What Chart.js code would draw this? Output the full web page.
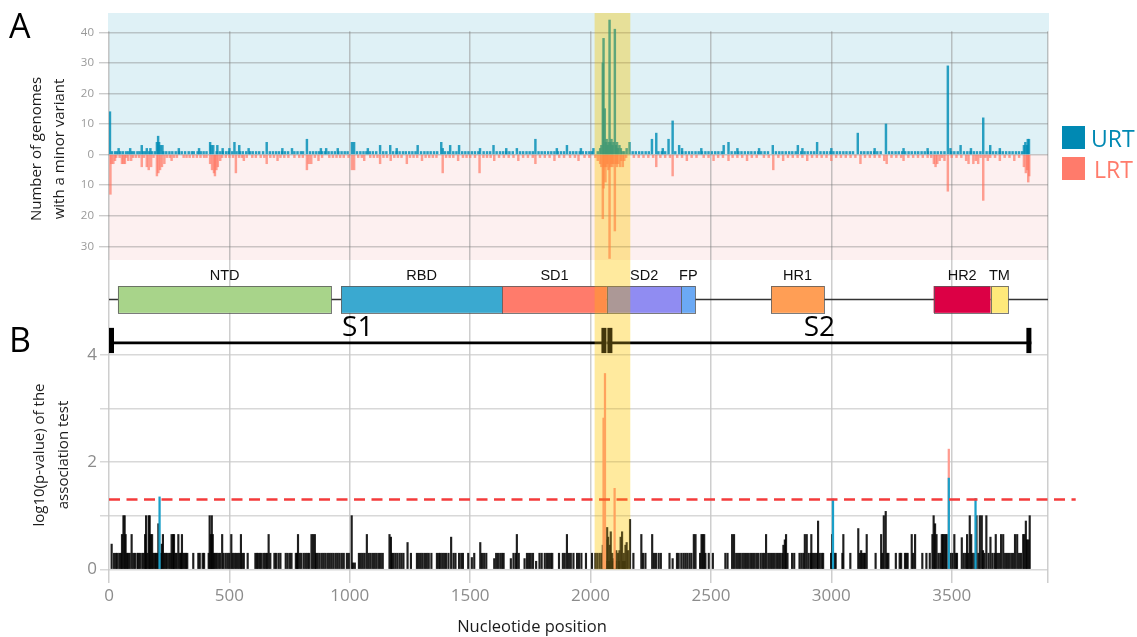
<!DOCTYPE html>
<html>
<head>
<meta charset="utf-8">
<title>Spike minor variants</title>
<script src="https://cdn.jsdelivr.net/npm/chart.js@4.4.1/dist/chart.umd.min.js"></script>
<style>
  html, body { margin: 0; padding: 0; background: #ffffff; }
  #wrap { position: relative; width: 1137px; height: 637px; overflow: hidden; }
  #cA { position: absolute; left: 0; top: 0; }
  #cB { position: absolute; left: 0; top: 260px; }
</style>
</head>
<body>
<div id="wrap">
  <canvas id="cA" width="1137" height="260"></canvas>
  <canvas id="cB" width="1137" height="377"></canvas>
</div>
<script>
// ---------- axes ----------
const xMax = 3900;
const xTicks = [0, 500, 1000, 1500, 2000, 2500, 3000, 3500];
const countTicks = [-30, -20, -10, 0, 10, 20, 30, 40];
const pvalTicks = [0, 1, 2, 3, 4];
const pvalLabelled = [0, 2, 4];
const pvalThreshold = 1.301;          // -log10(0.05)
const highlight = [2017, 2165];        // highlighted stretch around the S1/S2 site

// ---------- spike protein architecture (nucleotide positions) ----------
const domainNames = ['NTD', 'RBD', 'SD1', 'SD2', 'FP', 'HR1', 'HR2', 'TM'];
const domainStart = [37, 964, 1633, 2068, 2377, 2750, 3425, 3662];
const domainEnd   = [923, 1633, 2068, 2377, 2435, 2970, 3662, 3734];
const subunitNames = ['S1', 'S2'];
const subunitStart = [0, 2070];
const subunitEnd   = [2066, 3831];

// ---------- panel A: genomes with a minor variant ----------
// positions carrying a minor variant in a single URT genome
const urtSingle = [12, 25, 33, 47, 58, 71, 80, 95, 104, 118, 127, 141, 150, 166, 178, 190, 226, 238, 251, 263,
  277, 290, 302, 316, 331, 344, 352, 368, 381, 393, 405, 447, 460, 472, 486, 497, 512, 530, 544, 556, 570, 586,
  597, 611, 624, 640, 668, 681, 694, 706, 719, 731, 744, 770, 783, 797, 806, 835, 848, 861, 873, 885, 897, 912,
  925, 938, 953, 966, 979, 991, 1030, 1044, 1057, 1069, 1083, 1096, 1110, 1139, 1152, 1180, 1194, 1207, 1221,
  1233, 1247, 1260, 1273, 1296, 1310, 1323, 1336, 1350, 1363, 1395, 1408, 1430, 1443, 1467, 1480, 1493, 1507,
  1520, 1534, 1556, 1570, 1583, 1610, 1624, 1637, 1650, 1663, 1677, 1707, 1720, 1734, 1747, 1760, 1784, 1797,
  1810, 1824, 1837, 1850, 1864, 1877, 1890, 1915, 1928, 1941, 1955, 1968, 1982, 1995, 2005, 2175, 2188, 2202,
  2215, 2229, 2242, 2282, 2296, 2310, 2352, 2381, 2395, 2409, 2422, 2436, 2449, 2463, 2477, 2490, 2504, 2518,
  2531, 2545, 2586, 2600, 2614, 2627, 2641, 2655, 2668, 2682, 2696, 2709, 2723, 2737, 2770, 2784, 2797, 2811,
  2825, 2838, 2852, 2875, 2889, 2902, 2916, 2929, 2955, 2969, 2982, 2996, 3009, 3023, 3036, 3050, 3063, 3077,
  3090, 3124, 3137, 3151, 3164, 3178, 3191, 3205, 3240, 3253, 3267, 3280, 3294, 3307, 3321, 3334, 3348, 3361,
  3375, 3388, 3402, 3415, 3429, 3442, 3456, 3470, 3498, 3511, 3525, 3551, 3565, 3578, 3592, 3605, 3619, 3645,
  3658, 3672, 3685, 3699, 3712, 3726, 3740, 3753, 3767, 3780, 3793];
// [position, number of URT genomes]
const urtCounts = [[4, 14], [40, 2], [88, 2], [136, 3], [157, 2], [172, 2], [199, 4], [204, 6], [208, 4], [214, 3],
  [222, 3], [290, 2], [374, 2], [420, 4], [425, 3], [433, 3], [450, 3], [472, 2], [500, 2], [521, 4], [541, 3],
  [580, 2], [655, 4], [720, 2], [760, 2], [822, 5], [880, 2], [902, 2], [950, 2], [1009, 4], [1018, 4], [1075, 2],
  [1126, 3], [1168, 3], [1195, 2], [1282, 3], [1380, 4], [1386, 2], [1417, 3], [1454, 3], [1541, 2], [1597, 3],
  [1650, 2], [1694, 2], [1771, 5], [1860, 2], [1902, 3], [1960, 2], [2012, 2],
  [2030, 1], [2040, 2], [2045, 3], [2051, 30], [2054, 38], [2059, 15], [2063, 4], [2067, 5], [2071, 3], [2075, 4],
  [2079, 44], [2083, 4], [2087, 5], [2091, 3], [2095, 4], [2101, 41], [2106, 3], [2110, 4], [2114, 2], [2120, 3],
  [2126, 2], [2132, 1], [2140, 1], [2150, 2], [2162, 4],
  [2255, 5], [2273, 7], [2300, 2], [2324, 5], [2341, 11], [2368, 3], [2380, 2], [2460, 2], [2553, 3], [2573, 4],
  [2610, 2], [2700, 2], [2757, 3], [2861, 3], [2880, 2], [2941, 4], [3000, 2], [3110, 7], [3180, 2], [3227, 10],
  [3300, 2], [3400, 2], [3484, 29], [3495, 2], [3537, 3], [3580, 2], [3631, 12], [3660, 3], [3700, 2], [3800, 3],
  [3806, 4], [3812, 3], [3816, 5], [3821, 5]];
// positions carrying a minor variant in a single LRT genome
const lrtSingle = [30, 44, 72, 100, 112, 125, 145, 185, 240, 252, 270, 282, 310, 322, 335, 350, 365, 380, 395, 405,
  470, 485, 500, 515, 540, 552, 572, 595, 610, 630, 645, 670, 685, 712, 728, 745, 770, 790, 805, 855, 885, 915,
  930, 945, 960, 975, 995, 1035, 1050, 1085, 1100, 1115, 1140, 1155, 1185, 1200, 1215, 1250, 1265, 1280, 1315,
  1330, 1345, 1360, 1400, 1415, 1430, 1470, 1485, 1500, 1520, 1555, 1570, 1585, 1620, 1640, 1660, 1680, 1720,
  1740, 1760, 1790, 1810, 1830, 1870, 1890, 1915, 1935, 1975, 1995, 2180, 2200, 2220, 2240, 2260, 2290, 2310,
  2330, 2360, 2380, 2420, 2440, 2470, 2490, 2530, 2550, 2590, 2610, 2630, 2670, 2690, 2720, 2740, 2780, 2820,
  2840, 2860, 2880, 2920, 2940, 2960, 2980, 3020, 3040, 3060, 3080, 3100, 3140, 3160, 3180, 3200, 3250, 3270,
  3290, 3320, 3340, 3360, 3380, 3400, 3415, 3460, 3500, 3520, 3540, 3620, 3640, 3660, 3680, 3720, 3740, 3780];
// [position, number of LRT genomes]
const lrtCounts = [[6, 13], [10, 3], [18, 3], [25, 2], [54, 3], [60, 3], [66, 3], [80, 2], [92, 2], [136, 4],
  [157, 4], [165, 5], [175, 4], [199, 7], [205, 6], [212, 5], [220, 4], [230, 3], [260, 2], [420, 3], [428, 5],
  [436, 6], [440, 7], [446, 5], [452, 4], [462, 2], [527, 6], [560, 2], [655, 3], [700, 2], [822, 5], [830, 3],
  [840, 3], [870, 2], [1009, 5], [1018, 5], [1060, 2], [1126, 3], [1170, 2], [1237, 3], [1300, 2], [1386, 6],
  [1450, 2], [1539, 6], [1600, 2], [1700, 2], [1771, 3], [1850, 2], [1950, 2],
  [2020, 1], [2030, 2], [2040, 3], [2045, 4], [2051, 21], [2054, 11], [2058, 4], [2062, 9], [2066, 4], [2070, 3],
  [2074, 5], [2079, 34], [2083, 4], [2087, 3], [2091, 4], [2095, 3], [2101, 25], [2106, 3], [2110, 4], [2115, 3],
  [2123, 4], [2128, 2], [2134, 4], [2140, 2], [2148, 1],
  [2273, 4], [2341, 7], [2400, 2], [2511, 2], [2573, 2], [2650, 2], [2759, 5], [2800, 2], [2900, 2], [3000, 2],
  [3121, 3], [3220, 2], [3230, 3], [3300, 2], [3426, 3], [3433, 4], [3440, 3], [3450, 2], [3470, 2], [3484, 12],
  [3560, 2], [3570, 3], [3590, 3], [3600, 2], [3610, 3], [3631, 15], [3650, 2], [3700, 2], [3760, 2], [3800, 4],
  [3808, 6], [3814, 5], [3818, 9], [3822, 7]];

// ---------- panel B: log10(p-value) of the association test ----------
// [position, score] for positions that are not significant
const assocNs = [[11, 0.47], [21, 0.3], [29, 0.3], [35, 0.3], [43, 0.3], [49, 0.3], [54, 0.65], [60, 1.0], [65, 1.0],
  [69, 0.65], [75, 0.3], [80, 0.3], [86, 0.3], [94, 0.65], [101, 0.3], [108, 0.3], [118, 0.3], [122, 0.3], [129, 0.3],
  [138, 0.3], [144, 0.3], [150, 0.65], [154, 1.0], [159, 0.3], [165, 1.0], [169, 1.0], [173, 0.65], [179, 0.65],
  [184, 0.3], [190, 0.3], [195, 0.3], [201, 0.3], [205, 0.85], [215, 0.3], [219, 0.47], [224, 0.65], [230, 0.3],
  [235, 0.3], [241, 0.3], [249, 0.3], [256, 0.3], [260, 0.65], [266, 0.65], [270, 0.65], [276, 0.3], [281, 0.3],
  [288, 0.65], [294, 0.3], [299, 0.3], [303, 0.65], [309, 0.3], [314, 0.3], [320, 0.3], [325, 0.3], [350, 0.3],
  [371, 0.3], [377, 0.3], [389, 0.3], [395, 0.3], [414, 0.3], [418, 1.0], [423, 0.65], [427, 1.0], [431, 0.65],
  [436, 0.3], [442, 0.3], [447, 0.3], [454, 0.3], [461, 0.3], [470, 0.65], [476, 0.3], [485, 0.3], [493, 0.3],
  [500, 0.3], [508, 0.65], [514, 0.3], [521, 0.3], [528, 0.3], [535, 0.3], [542, 0.3], [548, 0.65], [554, 0.3],
  [560, 0.3], [576, 0.3], [608, 0.3], [614, 0.3], [620, 0.3], [627, 0.3], [634, 0.3], [643, 0.3], [650, 0.3],
  [656, 0.3], [663, 0.65], [670, 0.3], [687, 0.3], [694, 0.3], [704, 0.3], [712, 0.3], [734, 0.3], [742, 0.3],
  [751, 0.3], [758, 0.3], [776, 0.3], [781, 0.3], [785, 0.65], [792, 0.3], [799, 0.3], [809, 0.3], [817, 0.3],
  [824, 0.3], [831, 0.3], [841, 0.65], [848, 0.65], [855, 0.65], [860, 0.3], [867, 0.3], [875, 0.3], [884, 0.3],
  [892, 0.3], [900, 0.3], [909, 0.3], [917, 0.3], [925, 0.3], [933, 0.3], [942, 0.3], [950, 0.3], [958, 0.3],
  [967, 0.3], [975, 0.3], [988, 0.3], [996, 0.3], [1008, 1.0], [1013, 0.12], [1021, 0.12], [1038, 0.3], [1046, 0.3],
  [1054, 0.3], [1062, 0.3], [1071, 0.65], [1079, 0.3], [1087, 0.3], [1096, 0.3], [1104, 0.3], [1112, 0.3],
  [1121, 0.3], [1129, 0.3], [1137, 0.3], [1165, 0.65], [1171, 0.6], [1176, 0.3], [1182, 0.3], [1190, 0.3],
  [1198, 0.3], [1207, 0.3], [1215, 0.3], [1223, 0.3], [1240, 0.5], [1254, 0.3], [1279, 0.3], [1287, 0.3],
  [1295, 0.3], [1303, 0.3], [1312, 0.3], [1320, 0.3], [1328, 0.3], [1339, 0.3], [1362, 0.3], [1370, 0.3],
  [1376, 0.3], [1384, 0.3], [1392, 0.3], [1400, 0.3], [1410, 0.3], [1421, 0.6], [1431, 0.3], [1439, 0.3],
  [1454, 0.3], [1463, 0.3], [1470, 0.3], [1492, 0.3], [1507, 0.22], [1517, 0.3], [1542, 0.5], [1549, 0.3],
  [1558, 0.3], [1567, 0.3], [1600, 0.2], [1608, 0.3], [1616, 0.3], [1625, 0.3], [1633, 0.3], [1639, 0.3],
  [1669, 0.2], [1680, 0.3], [1689, 0.3], [1694, 0.65], [1702, 0.3], [1726, 0.2], [1736, 0.3], [1744, 0.3],
  [1752, 0.3], [1761, 0.3], [1774, 0.15], [1788, 0.3], [1797, 0.3], [1810, 0.3], [1819, 0.3], [1827, 0.3],
  [1835, 0.3], [1841, 0.3], [1869, 0.3], [1885, 0.3], [1893, 0.3], [1902, 0.65], [1910, 0.3], [1918, 0.3],
  [1929, 0.3], [1944, 0.3], [1952, 0.3], [1962, 0.3], [1981, 0.3], [2006, 0.3], [2020, 0.3], [2028, 0.3],
  [2037, 0.3], [2045, 0.3], [2051, 0.45], [2062, 0.55], [2065, 0.15], [2069, 0.78], [2073, 0.6], [2077, 0.15],
  [2080, 0.45], [2084, 0.7], [2089, 0.3], [2093, 0.15], [2095, 0.2], [2100, 0.3], [2104, 0.15], [2107, 0.35],
  [2114, 0.3], [2118, 0.15], [2120, 0.35], [2125, 0.6], [2131, 0.7], [2135, 0.15], [2138, 0.3], [2142, 0.15],
  [2145, 0.45], [2150, 0.5], [2156, 0.35], [2164, 0.93], [2178, 0.3], [2211, 0.65], [2218, 0.3], [2228, 0.3],
  [2256, 0.65], [2264, 0.3], [2272, 0.3], [2283, 0.3], [2292, 0.3], [2328, 0.3], [2341, 0.2], [2359, 0.3],
  [2366, 0.3], [2377, 0.3], [2386, 0.3], [2394, 0.3], [2402, 0.3], [2411, 0.3], [2419, 0.3], [2429, 0.65],
  [2436, 0.65], [2455, 0.3], [2461, 0.65], [2466, 0.65], [2472, 0.65], [2477, 0.3], [2491, 0.3], [2508, 0.3],
  [2560, 0.3], [2569, 0.3], [2588, 0.65], [2596, 0.65], [2605, 0.3], [2613, 0.3], [2621, 0.3], [2630, 0.3],
  [2638, 0.3], [2646, 0.3], [2654, 0.3], [2663, 0.3], [2671, 0.3], [2679, 0.3], [2688, 0.3], [2696, 0.3],
  [2706, 0.3], [2714, 0.3], [2721, 0.3], [2729, 0.65], [2738, 0.3], [2746, 0.3], [2754, 0.3], [2762, 0.3],
  [2771, 0.3], [2779, 0.3], [2787, 0.3], [2796, 0.3], [2801, 0.45], [2807, 0.55], [2812, 0.65], [2818, 0.3],
  [2837, 0.3], [2846, 0.3], [2868, 0.3], [2876, 0.3], [2884, 0.3], [2890, 0.65], [2898, 0.65], [2906, 0.3],
  [2915, 0.3], [2917, 0.65], [2924, 0.3], [2932, 0.3], [2941, 0.3], [2945, 0.9], [2952, 0.3], [2960, 0.3],
  [2966, 0.3], [2999, 0.3], [3004, 0.65], [3013, 0.3], [3018, 0.3], [3046, 0.3], [3050, 0.65], [3079, 0.3],
  [3112, 0.76], [3118, 0.3], [3124, 0.35], [3129, 0.3], [3135, 0.3], [3140, 0.3], [3147, 0.65], [3184, 0.3],
  [3207, 0.65], [3212, 0.3], [3218, 1.0], [3226, 1.08], [3232, 0.3], [3237, 0.3], [3268, 0.3], [3284, 0.3],
  [3290, 0.3], [3306, 0.3], [3312, 0.3], [3317, 0.3], [3334, 0.65], [3340, 0.3], [3348, 0.65], [3378, 0.3],
  [3395, 0.3], [3409, 0.3], [3420, 0.65], [3425, 1.0], [3431, 0.85], [3437, 0.65], [3445, 0.3], [3453, 0.3],
  [3459, 0.65], [3464, 0.65], [3470, 0.65], [3475, 0.65], [3481, 0.65], [3495, 0.3], [3503, 0.3], [3511, 0.65],
  [3517, 0.3], [3522, 0.3], [3542, 0.59], [3550, 0.3], [3558, 0.3], [3564, 0.65], [3569, 0.3], [3575, 1.0],
  [3581, 0.65], [3586, 0.3], [3594, 0.3], [3603, 1.0], [3611, 0.3], [3617, 1.0], [3625, 1.0], [3630, 0.35],
  [3636, 0.3], [3644, 1.0], [3653, 0.3], [3661, 0.6], [3669, 0.3], [3678, 0.3], [3683, 0.65], [3689, 0.3],
  [3697, 0.3], [3705, 0.65], [3714, 0.65], [3722, 0.3], [3730, 0.3], [3738, 0.3], [3747, 0.3], [3755, 0.3],
  [3763, 0.65], [3772, 0.65], [3780, 0.3], [3788, 0.3], [3797, 0.65], [3802, 0.65], [3808, 0.9], [3813, 0.55],
  [3819, 0.55], [3824, 1.0]];
// positions where the URT / LRT signal is the stronger one
const assocUrt = [[210, 1.35], [3007, 1.31], [3488, 1.70], [3599, 1.32]];
const assocLrt = [[2054, 2.82], [2057, 2.13], [2060, 3.65], [2100, 1.51], [3488, 2.24]];

// ---------- styling ----------
const FONT_UI = '"Open Sans", "DejaVu Sans", sans-serif';
const FONT_LBL = '"Liberation Sans", Arial, sans-serif';
const COL_URT = '#0089B3';
const COL_LRT = '#FF7B6B';
const domainColors = ['#A8D48A', '#3AA9D0', '#FF7B6B', '#908CF2', '#6BA9F5', '#FF9E55', '#DC0045', '#FFE97A'];

// layout of the protein map, in units of the panel B value axis
const map = { labelY: 5.47, boxTop: 5.28, boxBottom: 4.78, axisY: 5.03,
              subY: 4.22, subTickTop: 4.50, subTickBottom: 4.03, subLabelY: 4.50 };

const asPoints = (pairs, sign) => pairs.map(([p, v]) => ({ x: p, y: sign * v }));
const asOnes = (list, sign) => list.map(p => ({ x: p, y: sign }));

// keep the plot areas exactly where the layout puts them
const noLabelPadding = s => { s.paddingTop = 0; s.paddingBottom = 0; s.paddingLeft = 0; s.paddingRight = 0; };

function drawVerticalTitle(ctx, lines, x0, gap, yc, font) {
  ctx.save();
  ctx.font = font;
  ctx.fillStyle = '#1b1b1b';
  ctx.textAlign = 'center';
  ctx.textBaseline = 'middle';
  lines.forEach((t, i) => {
    ctx.save();
    ctx.translate(x0 + i * gap, yc);
    ctx.rotate(-Math.PI / 2);
    ctx.fillText(t, 0, 0);
    ctx.restore();
  });
  ctx.restore();
}

// translucent yellow wash over the highlighted stretch
function drawHighlight(chart, bottomValue) {
  const { ctx, chartArea: ca, scales: { x, y } } = chart;
  const x1 = x.getPixelForValue(highlight[0]);
  const x2 = x.getPixelForValue(highlight[1]);
  const yb = bottomValue === undefined ? ca.bottom : y.getPixelForValue(bottomValue);
  ctx.save();
  ctx.fillStyle = 'rgba(255, 218, 50, 0.26)';
  ctx.fillRect(x1, ca.top, x2 - x1, yb - ca.top);
  ctx.globalCompositeOperation = 'multiply';
  ctx.fillStyle = 'rgb(255, 244, 200)';
  ctx.fillRect(x1, ca.top, x2 - x1, yb - ca.top);
  ctx.restore();
}

// ---------- panel A ----------
const panelA = {
  id: 'panelA',
  beforeDraw(chart) {
    const { ctx, chartArea: ca, scales: { y } } = chart;
    const y0 = y.getPixelForValue(0);
    ctx.save();
    ctx.fillStyle = '#DFF1F6';
    ctx.fillRect(ca.left, ca.top, ca.right - ca.left, y0 - ca.top);
    ctx.fillStyle = '#FDF0F0';
    ctx.fillRect(ca.left, y0, ca.right - ca.left, ca.bottom - y0);
    ctx.restore();
  },
  beforeDatasetsDraw(chart) {
    // vertical grid lines start at the highest count line
    const { ctx, chartArea: ca, scales: { y } } = chart;
    const yTop = y.getPixelForValue(countTicks[countTicks.length - 1]);
    ctx.save();
    ctx.fillStyle = '#DFF1F6';
    ctx.fillRect(ca.left - 1, ca.top, ca.right - ca.left + 2, yTop - ca.top - 1);
    ctx.restore();
  },
  afterDatasetsDraw(chart) { drawHighlight(chart); },
  afterDraw(chart) {
    const { ctx } = chart;
    ctx.save();
    ctx.fillStyle = '#000';
    ctx.font = '34px ' + FONT_UI;
    ctx.textBaseline = 'alphabetic';
    ctx.fillText('A', 9, 38);
    // legend
    ctx.fillStyle = COL_URT;
    ctx.fillRect(1062, 126, 23, 23);
    ctx.fillStyle = COL_LRT;
    ctx.fillRect(1062, 157, 23, 23);
    ctx.font = '23px ' + FONT_UI;
    ctx.fillStyle = COL_URT;
    ctx.fillText('URT', 1091, 147);
    ctx.fillStyle = COL_LRT;
    ctx.fillText('LRT', 1094, 178);
    ctx.restore();
    drawVerticalTitle(ctx, ['Number of genomes', 'with a minor variant'], 37, 23, 149, '15px ' + FONT_UI);
  }
};

new Chart(document.getElementById('cA'), {
  type: 'bar',
  data: {
    datasets: [
      { label: 'URT', data: asOnes(urtSingle, 1).concat(asPoints(urtCounts, 1)),
        backgroundColor: 'rgba(0, 140, 180, 0.82)', barThickness: 1.8, grouped: false, borderWidth: 0 },
      { label: 'LRT', data: asOnes(lrtSingle, -1).concat(asPoints(lrtCounts, -1)),
        backgroundColor: 'rgba(255, 112, 92, 0.65)', barThickness: 1.8, grouped: false, borderWidth: 0 }
    ]
  },
  options: {
    responsive: false,
    animation: false,
    events: [],
    layout: { padding: { left: 0, right: 89, top: 13, bottom: 0 } },
    plugins: { legend: { display: false }, tooltip: { enabled: false } },
    scales: {
      x: {
        type: 'linear', min: 0, max: xMax, offset: false,
        afterBuildTicks: s => { s.ticks = xTicks.concat([xMax]).map(v => ({ value: v })); },
        afterFit: s => { s.height = 0; noLabelPadding(s); },
        ticks: { display: false },
        grid: { offset: false, color: 'rgba(150,150,150,0.55)', lineWidth: 1.5, drawTicks: false },
        border: { display: false }
      },
      y: {
        type: 'linear', min: -34.5, max: 46.3,
        afterBuildTicks: s => { s.ticks = countTicks.map(v => ({ value: v })); },
        afterFit: s => { s.width = 109; noLabelPadding(s); },
        ticks: { callback: v => String(Math.abs(v)), color: '#999999', padding: 5,
                 font: { family: FONT_UI, size: 11.5 } },
        grid: { color: 'rgba(120,120,120,0.38)', lineWidth: 1.4, tickLength: 10 },
        border: { display: false }
      }
    }
  },
  plugins: [panelA]
});

// ---------- panel B ----------
const panelB = {
  id: 'panelB',
  afterDatasetsDraw(chart) {
    const { ctx, scales: { x, y } } = chart;
    ctx.save();
    // protein backbone
    const yAxis = Math.round(y.getPixelForValue(map.axisY)) + 0.5;
    ctx.strokeStyle = '#333';
    ctx.lineWidth = 1.3;
    ctx.beginPath();
    ctx.moveTo(x.getPixelForValue(0), yAxis);
    ctx.lineTo(x.getPixelForValue(xMax), yAxis);
    ctx.stroke();
    // domains
    const bt = y.getPixelForValue(map.boxTop), bb = y.getPixelForValue(map.boxBottom);
    const ly = y.getPixelForValue(map.labelY);
    domainNames.forEach((name, i) => {
      const x1 = x.getPixelForValue(domainStart[i]);
      const x2 = x.getPixelForValue(domainEnd[i]);
      ctx.fillStyle = domainColors[i];
      ctx.fillRect(x1, bt, x2 - x1, bb - bt);
      ctx.strokeStyle = 'rgba(90,90,90,0.8)';
      ctx.lineWidth = 1;
      ctx.strokeRect(Math.round(x1) + 0.5, Math.round(bt) + 0.5, Math.round(x2 - x1), Math.round(bb - bt));
      ctx.fillStyle = '#111';
      ctx.font = '14.5px ' + FONT_LBL;
      ctx.textAlign = 'center';
      ctx.textBaseline = 'middle';
      ctx.fillText(name, (x1 + x2) / 2, ly);
    });
    // S1 / S2 subunits
    const sy = y.getPixelForValue(map.subY);
    const tt = y.getPixelForValue(map.subTickTop), tb = y.getPixelForValue(map.subTickBottom);
    const sly = y.getPixelForValue(map.subLabelY);
    subunitNames.forEach((name, i) => {
      const x1 = x.getPixelForValue(subunitStart[i]);
      const x2 = x.getPixelForValue(subunitEnd[i]);
      ctx.strokeStyle = '#000';
      ctx.lineWidth = 2.6;
      ctx.beginPath();
      ctx.moveTo(x1, sy);
      ctx.lineTo(x2, sy);
      ctx.stroke();
      ctx.fillStyle = '#000';
      ctx.fillRect(x1, tt, 5, tb - tt);
      ctx.fillRect(x2 - 5, tt, 5, tb - tt);
      ctx.font = '28px ' + FONT_UI;
      ctx.textAlign = 'center';
      ctx.textBaseline = 'middle';
      ctx.fillText(name, (x1 + x2) / 2, sly);
    });
    // significance threshold
    const yt = y.getPixelForValue(pvalThreshold);
    ctx.strokeStyle = '#F43B3B';
    ctx.lineWidth = 2.4;
    ctx.setLineDash([11, 6.5]);
    ctx.beginPath();
    ctx.moveTo(x.getPixelForValue(0), yt);
    ctx.lineTo(x.getPixelForValue(4015), yt);
    ctx.stroke();
    ctx.restore();
    drawHighlight(chart, 0);
  },
  afterDraw(chart) {
    const { ctx } = chart;
    ctx.save();
    ctx.fillStyle = '#000';
    ctx.font = '34px ' + FONT_UI;
    ctx.textBaseline = 'alphabetic';
    ctx.fillText('B', 9, 92);
    ctx.font = '16.5px ' + FONT_UI;
    ctx.fillStyle = '#1b1b1b';
    ctx.textAlign = 'center';
    ctx.textBaseline = 'middle';
    ctx.fillText('Nucleotide position', 532, 367);
    ctx.restore();
    drawVerticalTitle(ctx, ['log10(p-value) of the', 'association test'], 39.5, 24.5, 195, '15px ' + FONT_UI);
  }
};

new Chart(document.getElementById('cB'), {
  type: 'bar',
  data: {
    datasets: [
      { label: 'URT', data: asPoints(assocUrt, 1), backgroundColor: '#1A9FC8',
        barThickness: 1.6, grouped: false, borderWidth: 0 },
      { label: 'LRT', data: asPoints(assocLrt, 1), backgroundColor: '#FF9B90',
        barThickness: 1.6, grouped: false, borderWidth: 0 },
      { label: 'ns', data: asPoints(assocNs, 1), backgroundColor: 'rgba(0,0,0,0.88)',
        barThickness: 1.5, grouped: false, borderWidth: 0 }
    ]
  },
  options: {
    responsive: false,
    animation: false,
    events: [],
    layout: { padding: { left: 0, right: 89, top: 0, bottom: 0 } },
    plugins: { legend: { display: false }, tooltip: { enabled: false } },
    scales: {
      x: {
        type: 'linear', min: 0, max: xMax, offset: false,
        afterBuildTicks: s => { s.ticks = xTicks.concat([xMax]).map(v => ({ value: v })); },
        afterFit: s => { s.height = 54; noLabelPadding(s); },
        ticks: { callback: v => (v === xMax ? '' : String(v)), color: '#8C8C8C', padding: 3,
                 maxRotation: 0, autoSkip: false, font: { family: FONT_UI, size: 17 } },
        grid: { offset: false, color: 'rgba(190,190,190,0.75)', lineWidth: 1.5, drawTicks: false },
        border: { display: false }
      },
      y: {
        type: 'linear', min: -0.255, max: 5.765,
        afterBuildTicks: s => { s.ticks = pvalTicks.map(v => ({ value: v })); },
        afterFit: s => { s.width = 109; noLabelPadding(s); },
        ticks: { callback: v => (pvalLabelled.includes(v) ? String(v) : ''), color: '#8C8C8C', padding: 3,
                 font: { family: FONT_UI, size: 17 } },
        grid: { color: 'rgba(200,200,200,0.7)', lineWidth: 1.5, tickLength: 9 },
        border: { display: false }
      }
    }
  },
  plugins: [panelB]
});
</script>
</body>
</html>
